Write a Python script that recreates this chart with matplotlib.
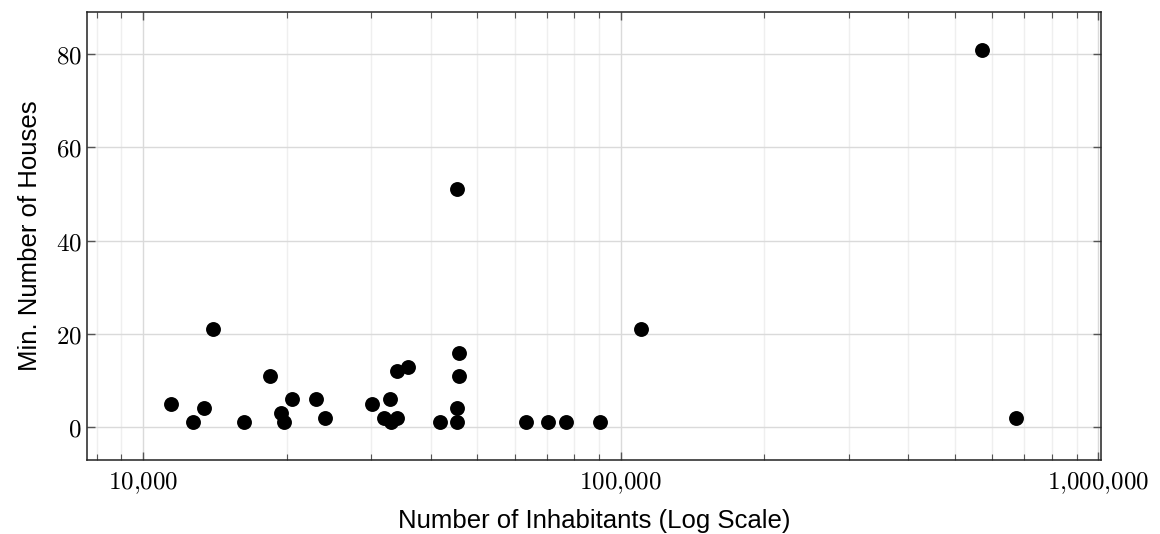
import numpy as np
import matplotlib.pyplot as plt
from matplotlib.ticker import FixedLocator, LogLocator, FuncFormatter, NullFormatter

plt.rcParams['mathtext.fontset'] = 'cm'

# data
inhabitants = [11460, 12760, 13440, 14050, 16270, 18440, 19410, 19750, 20500,
               23080, 24040, 30180, 32890, 31970, 33030, 34040, 34090, 35840,
               41940, 45390, 45520, 45890, 45890, 45520, 63280, 70570, 76710,
               90650, 110440, 570000, 673700]
houses = [5, 1, 4, 21, 1, 11, 3, 1, 6,
          6, 2, 5, 6, 2, 1, 2, 12, 13,
          1, 1, 4, 11, 16, 51, 1, 1, 1,
          1, 21, 81, 2]
x_ticks = [1e4, 1e5, 1e6]
y_ticks = [0, 20, 40, 60, 80]

fig = plt.figure(figsize=(11.6, 5.34), dpi=100)
ax = fig.add_axes([0.0747, 0.1391, 0.8744, 0.8379])

ax.scatter(inhabitants, houses, s=115, color='black', zorder=3, linewidths=0)

ax.set_xscale('log')
# pgfplots style: enlarge limits by 10% of the range on each side
lx = np.log10(inhabitants)
rx = lx.max() - lx.min()
ax.set_xlim(10 ** (lx.min() - 0.1 * rx), 10 ** (lx.max() + 0.1 * rx))
ry = max(houses) - min(houses)
ax.set_ylim(min(houses) - 0.1 * ry, max(houses) + 0.1 * ry)

ax.xaxis.set_major_locator(FixedLocator(x_ticks))
ax.xaxis.set_minor_locator(LogLocator(base=10, subs=np.arange(2, 10)))
ax.xaxis.set_major_formatter(FuncFormatter(lambda v, p: '$' + f'{int(v):,}'.replace(',', '{,}') + '$'))
ax.xaxis.set_minor_formatter(NullFormatter())
ax.yaxis.set_major_locator(FixedLocator(y_ticks))
ax.yaxis.set_major_formatter(FuncFormatter(lambda v, p: f'${int(v)}$'))

ax.grid(True, which='major', color='#dadada', linewidth=1.0)
ax.grid(True, which='minor', axis='x', color='#efefef', linewidth=1.0)
ax.set_axisbelow(True)

ax.tick_params(which='both', direction='in', top=True, right=True, color='#555555',
               labelsize=18)
ax.tick_params(which='major', length=6, width=1)
ax.tick_params(which='minor', length=4, width=0.8)
ax.tick_params(axis='x', pad=8)
for s in ax.spines.values():
    s.set_linewidth(1.1)
    s.set_color('#222222')

ax.set_xlabel('Number of Inhabitants (Log Scale)', family='Liberation Sans', fontsize=18.5, labelpad=9)
ax.set_ylabel('Min. Number of Houses', family='Liberation Sans', fontsize=18.5, labelpad=10)

fig.savefig('out.png', dpi=100)
